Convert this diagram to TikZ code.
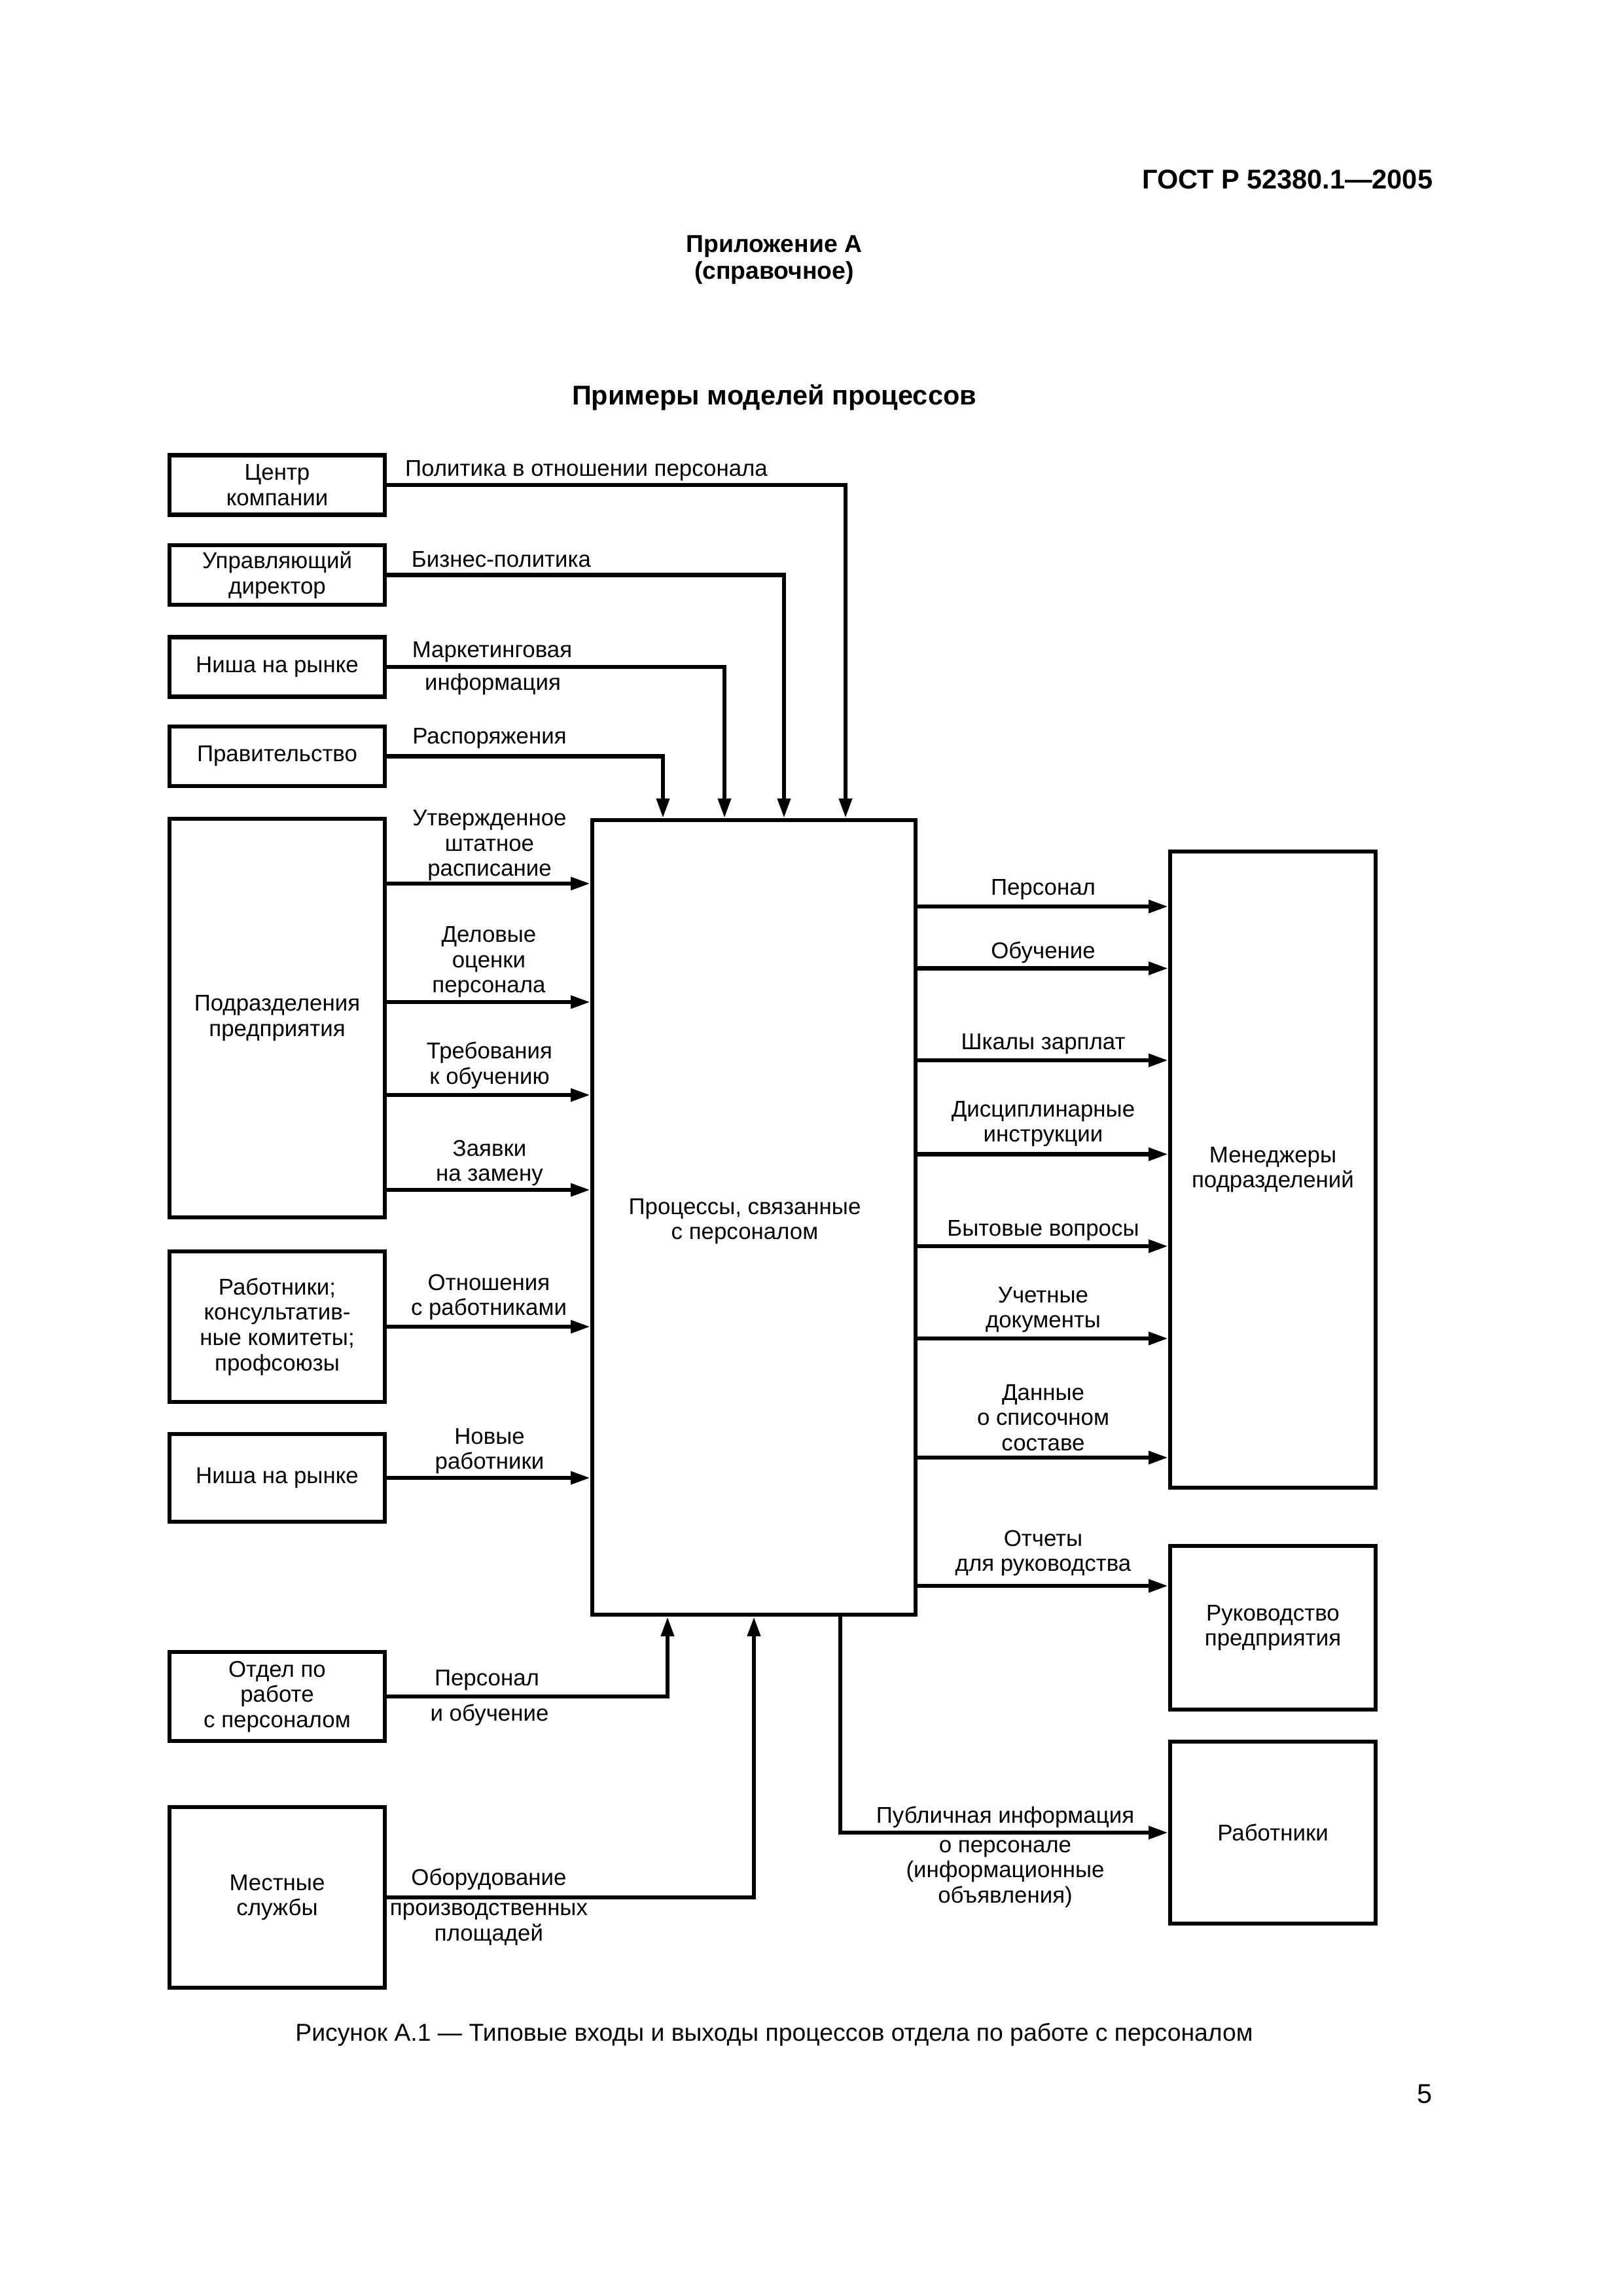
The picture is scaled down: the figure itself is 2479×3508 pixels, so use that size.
\documentclass[tikz,border=0pt]{standalone}
\usepackage{fontspec}
\setmainfont{Liberation Sans}
\usetikzlibrary{arrows.meta}
\newcommand\lblfont{\fontsize{8.4}{9.3}\selectfont}
\newcommand\pxu{0.084711mm}
\tikzset{
  box/.style={draw, line width=1.5pt, inner sep=0pt, align=center, font=\lblfont},
  lbl/.style={inner sep=0pt, align=center, font=\lblfont},
  arr/.style={line width=1.5pt, -{Triangle[length=7.2pt,width=4.6pt]}},
}
\begin{document}
\begin{tikzpicture}[x=0.084711mm, y=-0.084711mm]
\useasboundingbox (0,0) rectangle (2479,3508);

% header
\node[inner sep=0pt, anchor=east, font=\fontsize{10}{12}\selectfont\bfseries] (gost) at (2190,274) {ГОСТ Р 52380.1—2005};
\node[inner sep=0pt, align=center, font=\fontsize{9}{10}\selectfont\bfseries] (pril) at (1183,397) {Приложение А\\(справочное)};
\node[inner sep=0pt, font=\fontsize{10}{12}\selectfont\bfseries] (title) at (1183,607) {Примеры моделей процессов};

% left boxes
\node[box, minimum width=329*\pxu, minimum height=91*\pxu] (b1) at (423.5,741) {Центр\\компании};
\node[box, minimum width=329*\pxu, minimum height=91*\pxu] (b2) at (423.5,878.5) {Управляющий\\директор};
\node[box, minimum width=329*\pxu, minimum height=91*\pxu] (b3) at (423.5,1019) {Ниша на рынке};
\node[box, minimum width=329*\pxu, minimum height=91*\pxu] (b4) at (423.5,1155.5) {Правительство};
\node[box, minimum width=329*\pxu, minimum height=609*\pxu] (b5) at (423.5,1555.5) {Подразделения\\предприятия};
\node[box, minimum width=329*\pxu, minimum height=230*\pxu] (b6) at (423.5,2027) {Работники;\\консультатив-\\ные комитеты;\\профсоюзы};
\node[box, minimum width=329*\pxu, minimum height=134.5*\pxu] (b7) at (423.5,2258) {Ниша на рынке};
\node[box, minimum width=329*\pxu, minimum height=136*\pxu] (b8) at (423.5,2592) {Отдел по\\работе\\с персоналом};
\node[box, minimum width=329*\pxu, minimum height=276*\pxu] (b9) at (423.5,2899) {Местные\\службы};

% centre box
\node[box, minimum width=494*\pxu, minimum height=1214*\pxu] (C) at (1152,1860) {};
\node[lbl] (ctext) at (1138,1866) {Процессы, связанные\\с персоналом};

% right boxes
\node[box, minimum width=314*\pxu, minimum height=972*\pxu] (M) at (1945,1787) {Менеджеры\\подразделений};
\node[box, minimum width=314*\pxu, minimum height=250*\pxu] (R) at (1945,2487) {Руководство\\предприятия};
\node[box, minimum width=314*\pxu, minimum height=278*\pxu] (W) at (1945,2800) {Работники};

% top inputs
\draw[arr] (b1.east) -| ([xshift=140*\pxu]C.north);
\draw[arr] (b2.east) -| ([xshift=46*\pxu]C.north);
\draw[arr] (b3.east) -| ([xshift=-45*\pxu]C.north);
\draw[arr] (b4.east) -| ([xshift=-139*\pxu]C.north);
\node[lbl] (l1) at (896,719) {Политика в отношении персонала};
\node[lbl] (l2) at (766,855) {Бизнес-политика};
\node[lbl] (l3a) at (752,996) {Маркетинговая};
\node[lbl] (l3b) at (753,1045) {информация};
\node[lbl] (l4) at (748,1128) {Распоряжения};

% left inputs
\draw[arr] (b5.east |- 0,1350) -- (C.west |- 0,1350);
\draw[arr] (b5.east |- 0,1531) -- (C.west |- 0,1531);
\draw[arr] (b5.east |- 0,1673) -- (C.west |- 0,1673);
\draw[arr] (b5.east |- 0,1818) -- (C.west |- 0,1818);
\draw[arr] (b6.east) -- (b6.east -| C.west);
\draw[arr] (b7.east) -- (b7.east -| C.west);
\node[lbl] (l5) at (748,1292) {Утвержденное\\штатное\\расписание};
\node[lbl] (l6) at (747,1470) {Деловые\\оценки\\персонала};
\node[lbl] (l7) at (748,1628) {Требования\\к обучению};
\node[lbl] (l8) at (748,1777) {Заявки\\на замену};
\node[lbl] (l9) at (747,1982) {Отношения\\с работниками};
\node[lbl] (l10) at (748,2217) {Новые\\работники};

% bottom inputs
\draw[arr] (b8.east) -| ([xshift=-132*\pxu]C.south);
\draw[arr] (b9.east) -| (C.south);
\node[lbl] (l11a) at (744,2567) {Персонал};
\node[lbl] (l11b) at (748,2620) {и обучение};
\node[lbl] (l12a) at (747,2871) {Оборудование};
\node[lbl] (l12b) at (747,2940) {производственных\\площадей};

% right outputs
\draw[arr] (C.east |- 0,1385) -- (M.west |- 0,1385);
\draw[arr] (C.east |- 0,1479.5) -- (M.west |- 0,1479.5);
\draw[arr] (C.east |- 0,1620) -- (M.west |- 0,1620);
\draw[arr] (C.east |- 0,1763.5) -- (M.west |- 0,1763.5);
\draw[arr] (C.east |- 0,1904) -- (M.west |- 0,1904);
\draw[arr] (C.east |- 0,2045) -- (M.west |- 0,2045);
\draw[arr] (C.east |- 0,2227) -- (M.west |- 0,2227);
\draw[arr] (C.east |- 0,2423) -- (R.west |- 0,2423);
\draw[arr] ([xshift=132*\pxu]C.south) |- (W.west);
\node[lbl] (r1) at (1594,1359) {Персонал};
\node[lbl] (r2) at (1594,1455) {Обучение};
\node[lbl] (r3) at (1594,1595) {Шкалы зарплат};
\node[lbl] (r4) at (1594,1717) {Дисциплинарные\\инструкции};
\node[lbl] (r5) at (1594,1880) {Бытовые вопросы};
\node[lbl] (r6) at (1594,2001) {Учетные\\документы};
\node[lbl] (r7) at (1594,2166) {Данные\\о списочном\\составе};
\node[lbl] (r8) at (1594,2373) {Отчеты\\для руководства};
\node[lbl] (r9a) at (1536,2776) {Публичная информация};
\node[lbl] (r9b) at (1536,2863) {о персонале\\(информационные\\объявления)};

% caption and page number
\node[inner sep=0pt, font=\fontsize{9}{11}\selectfont] (cap) at (1183,3109) {Рисунок А.1 — Типовые входы и выходы процессов отдела по работе с персоналом};
\node[inner sep=0pt, font=\fontsize{10}{12}\selectfont] (pg) at (2177,3199) {5};
\end{tikzpicture}
\end{document}
